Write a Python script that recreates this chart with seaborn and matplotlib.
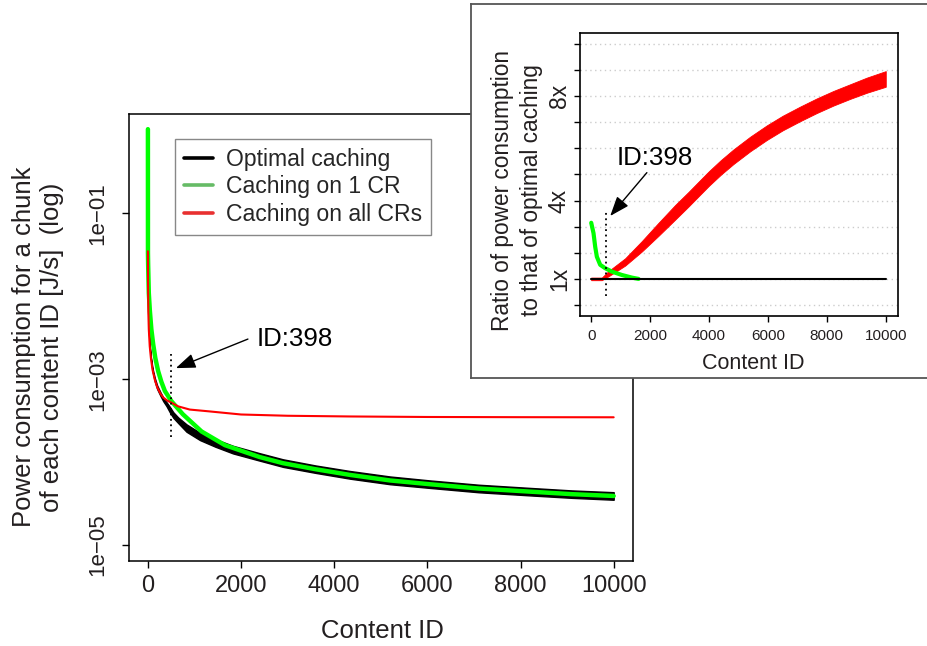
import matplotlib
matplotlib.use("Agg")
import matplotlib.pyplot as plt
import seaborn as sns
import pandas as pd
from matplotlib.lines import Line2D
from matplotlib.ticker import NullLocator

# ---------------- data: main panel (power per chunk, J/s, log) ----------------
opt_ids = [1, 3, 10, 20, 40, 65, 100, 150, 200, 270, 330, 400, 470, 545, 650,
           830, 1120, 1450, 1830, 2400, 2900, 3600, 4340, 5200, 6060, 7100,
           8200, 9100, 10000]
opt_lo = [3.5e-2, 1.6e-2, 6.5e-3, 4.0e-3, 2.45e-3, 1.75e-3, 1.25e-3, 9.35e-4,
          7.6e-4, 6.3e-4, 5.43e-4, 4.73e-4, 4.0e-4, 3.43e-4, 2.96e-4, 2.32e-4,
          1.84e-4, 1.53e-4, 1.27e-4, 1.04e-4, 8.75e-5, 7.4e-5, 6.3e-5, 5.4e-5,
          4.87e-5, 4.32e-5, 3.96e-5, 3.7e-5, 3.51e-5]
opt_hi = [3.5e-2, 1.6e-2, 6.5e-3, 4.0e-3, 2.55e-3, 1.85e-3, 1.35e-3, 1.03e-3,
          8.4e-4, 6.95e-4, 6.0e-4, 5.28e-4, 4.65e-4, 4.0e-4, 3.46e-4, 2.85e-4,
          2.26e-4, 1.89e-4, 1.57e-4, 1.28e-4, 1.08e-4, 9.1e-5, 7.8e-5, 6.7e-5,
          6.0e-5, 5.33e-5, 4.88e-5, 4.55e-5, 4.33e-5]

one_ids = [1, 2, 6, 20, 43, 75, 114, 160, 221, 290, 365, 509, 752, 1153, 1654,
           2400, 2900, 3600, 4340, 5200, 6060, 7100, 8200, 9100, 10000]
one_vals = [1.04, 3.3e-2, 2.4e-2, 1.1e-2, 6.7e-3, 4.0e-3, 2.65e-3, 1.8e-3,
            1.25e-3, 9.3e-4, 7.2e-4, 5.4e-4, 3.77e-4, 2.34e-4, 1.6e-4, 1.15e-4,
            9.7e-5, 8.2e-5, 7.0e-5, 6.0e-5, 5.4e-5, 4.8e-5, 4.4e-5, 4.1e-5,
            3.9e-5]

all_ids = [1, 3, 10, 20, 40, 65, 100, 150, 200, 270, 330, 420, 509, 651, 900,
           1296, 2000, 3000, 4340, 6000, 8000, 10000]
all_vals = [3.5e-2, 1.6e-2, 6.5e-3, 4.0e-3, 2.5e-3, 1.8e-3, 1.3e-3, 9.8e-4,
            8.0e-4, 6.7e-4, 6.0e-4, 5.5e-4, 5.2e-4, 4.7e-4, 4.3e-4, 4.1e-4,
            3.75e-4, 3.62e-4, 3.55e-4, 3.5e-4, 3.48e-4, 3.47e-4]

# ---------------- data: inset (ratio to optimal caching) ----------------
ratio_all_ids = [0, 360, 588, 1154, 1720, 2285, 2850, 3302, 3650, 4000, 4400,
                 4829, 5400, 5960, 6500, 7092, 7650, 8223, 8800, 9355, 10000]
ratio_all_lo = [0.95, 0.95, 1.10, 1.51, 2.05, 2.65, 3.27, 3.77, 4.17, 4.57,
                4.99, 5.40, 5.89, 6.32, 6.69, 7.04, 7.35, 7.64, 7.90, 8.13, 8.36]
ratio_all_hi = [1.05, 1.05, 1.30, 1.79, 2.45, 3.15, 3.83, 4.33, 4.73, 5.13,
                5.55, 5.96, 6.45, 6.88, 7.25, 7.60, 7.91, 8.20, 8.46, 8.71, 8.96]
ratio_one_ids = [1, 79, 136, 192, 305, 475, 701, 1041, 1380, 1607]
ratio_one_vals = [3.15, 2.75, 2.23, 1.85, 1.54, 1.41, 1.28, 1.15, 1.05, 1.0]
ratio_opt_ids = [0, 10000]
ratio_opt_vals = [1.0, 1.0]

main_xticks = [0, 2000, 4000, 6000, 8000, 10000]
main_yticks = [1e-5, 1e-3, 1e-1]
main_yticklabels = ["1e\u221205", "1e\u221203", "1e\u221201"]
inset_xticks = [0, 2000, 4000, 6000, 8000, 10000]
inset_yticks = [0, 1, 2, 3, 4, 5, 6, 7, 8, 9, 10]
inset_yticklabels = ["", "1x", "", "", "4x", "", "", "", "8x", "", ""]
legend_labels = ["Optimal caching", "Caching on 1 CR", "Caching on all CRs"]
marked_id = 500
annot_text = "ID:398"

# ---------------- style ----------------
sns.set_theme(style="ticks")
plt.rcParams["font.family"] = ["Liberation Sans", "DejaVu Sans"]
plt.rcParams["axes.unicode_minus"] = True

W, H = 927, 646
def fx(px):
    return px / W
def fy(py):
    return 1 - py / H

fig = plt.figure(figsize=(W / 100, H / 100), dpi=100)
fig.patch.set_facecolor("white")

# ---------------- main axes ----------------
ax = fig.add_axes([fx(129), fy(561), (633 - 129) / W, (561 - 114) / H])
ax.set_facecolor("white")
ax.fill_between(opt_ids, opt_lo, opt_hi, color="black", edgecolor="black",
                linewidth=1.0, zorder=2)
df_one = pd.DataFrame({"id": one_ids, "v": one_vals})
df_all = pd.DataFrame({"id": all_ids, "v": all_vals})
sns.lineplot(data=df_one, x="id", y="v", ax=ax, color="#00ff00", lw=3.2,
             estimator=None, sort=False, solid_capstyle="round", zorder=3)
sns.lineplot(data=df_all, x="id", y="v", ax=ax, color="#ff0000", lw=1.5,
             estimator=None, sort=False, zorder=4)
ax.set_yscale("log")
ax.set_xlim(-405, 10415)
ax.set_ylim(6.4e-6, 1.585)
ax.set_xticks(main_xticks)
ax.set_xticklabels([str(t) for t in main_xticks])
ax.set_yticks(main_yticks)
ax.set_yticklabels(main_yticklabels, rotation=90, va="center")
ax.yaxis.set_minor_locator(NullLocator())
ax.set_xlabel("")
ax.set_ylabel("")
ax.tick_params(axis="both", direction="out", length=5, width=1,
               color="black", labelcolor="#231f20", bottom=True, left=True)
ax.tick_params(axis="x", labelsize=17, pad=5)
ax.tick_params(axis="y", labelsize=16, pad=10)
for s in ax.spines.values():
    s.set_visible(True)
    s.set_color("black")
    s.set_linewidth(1.1)

# annotation main
ax.plot([marked_id, marked_id], [2.0e-4, 2.0e-3], color="black",
        linestyle=(0, (1, 2)), lw=1.3, zorder=5)
ax.annotate("", xy=(601, 1.36e-3), xytext=(2148, 3.05e-3),
            arrowprops=dict(arrowstyle="-|>,head_length=0.8,head_width=0.3",
                            color="black", lw=1.0, mutation_scale=15,
                            shrinkA=0, shrinkB=0), zorder=5)
ax.text(3146, 2.51e-3, annot_text, ha="center", va="baseline", fontsize=18.6,
        color="black", zorder=5)

handles = [Line2D([0], [0], color="black", lw=2.6),
           Line2D([0], [0], color="#66bb66", lw=2.6),
           Line2D([0], [0], color="#e83030", lw=2.6)]
leg = ax.legend(handles, legend_labels, loc="upper left",
                bbox_to_anchor=((175 - 129) / 504, (561 - 139) / 447),
                borderaxespad=0, fontsize=16.6, frameon=True, fancybox=False,
                framealpha=1, edgecolor="#888888", handlelength=1.25,
                handletextpad=0.6, borderpad=0.38, labelspacing=0.2)
leg.get_frame().set_linewidth(1.0)

# ---------------- inset background box ----------------
bg = fig.add_axes([fx(471), fy(378), 1 - fx(471) + 0.01, (378 - 4) / H])
bg.set_zorder(5)
bg.set_facecolor("white")
bg.set_xticks([])
bg.set_yticks([])
for s in bg.spines.values():
    s.set_color("#555555")
    s.set_linewidth(1.3)

# ---------------- inset axes ----------------
ax2 = fig.add_axes([fx(580), fy(315.7), (897.7 - 580) / W, (315.7 - 33) / H])
ax2.set_zorder(6)
ax2.set_facecolor("white")
ax2.set_axisbelow(True)
ax2.yaxis.grid(True, color="#cccccc", linestyle=(0, (1, 2.5)), lw=1.0)
ax2.xaxis.grid(False)
ax2.fill_between(ratio_all_ids, ratio_all_lo, ratio_all_hi, color="#ff0000",
                 edgecolor="#ff0000", linewidth=0.6, zorder=2)
df_r1 = pd.DataFrame({"id": ratio_one_ids, "v": ratio_one_vals})
df_r0 = pd.DataFrame({"id": ratio_opt_ids, "v": ratio_opt_vals})
sns.lineplot(data=df_r1, x="id", y="v", ax=ax2, color="#00ff00", lw=3.0,
             estimator=None, sort=False, zorder=3)
sns.lineplot(data=df_r0, x="id", y="v", ax=ax2, color="black", lw=1.5,
             estimator=None, sort=False, zorder=4)
ax2.set_xlim(-380, 10405)
ax2.set_ylim(-0.41, 10.42)
ax2.set_xticks(inset_xticks)
ax2.set_xticklabels([str(t) for t in inset_xticks])
ax2.set_yticks(inset_yticks)
ax2.set_yticklabels(inset_yticklabels, rotation=90, va="center")
ax2.set_xlabel("")
ax2.set_ylabel("")
ax2.tick_params(axis="both", direction="out", length=4.5, width=1,
                color="black", labelcolor="#231f20", bottom=True, left=True)
ax2.tick_params(axis="x", labelsize=11, pad=5)
ax2.tick_params(axis="y", labelsize=16.5, pad=2)
for s in ax2.spines.values():
    s.set_visible(True)
    s.set_color("black")
    s.set_linewidth(1.2)

ax2.plot([marked_id, marked_id], [0.34, 3.57], color="black",
         linestyle=(0, (1, 2)), lw=1.3, zorder=5)
ax2.annotate("", xy=(645, 3.41), xytext=(1890, 5.07),
             arrowprops=dict(arrowstyle="-|>,head_length=0.8,head_width=0.3",
                             color="black", lw=1.0, mutation_scale=15,
                             shrinkA=0, shrinkB=0), zorder=5)
ax2.text(2161, 5.36, annot_text, ha="center", va="baseline", fontsize=18.6,
         color="black", zorder=5)

# ---------------- axis titles ----------------
fig.text(fx(382), fy(638), "Content ID", ha="center", va="baseline",
         fontsize=18.5, color="#231f20", zorder=10)
fig.text(fx(38), fy(347),
         "Power consumption for a chunk\nof each content ID [J/s]  (log)",
         rotation=90, ha="center", va="center", multialignment="center",
         fontsize=18.5, color="#231f20", zorder=10)
fig.text(fx(753), fy(369.3), "Content ID", ha="center", va="baseline",
         fontsize=15.5, color="#231f20", zorder=10)
fig.text(fx(517), fy(190),
         "Ratio of power consumption\nto that of optimal caching",
         rotation=90, ha="center", va="center", multialignment="center",
         fontsize=16.3, linespacing=1.3, color="#231f20", zorder=10)

fig.savefig("out.png", dpi=100, facecolor="white")
